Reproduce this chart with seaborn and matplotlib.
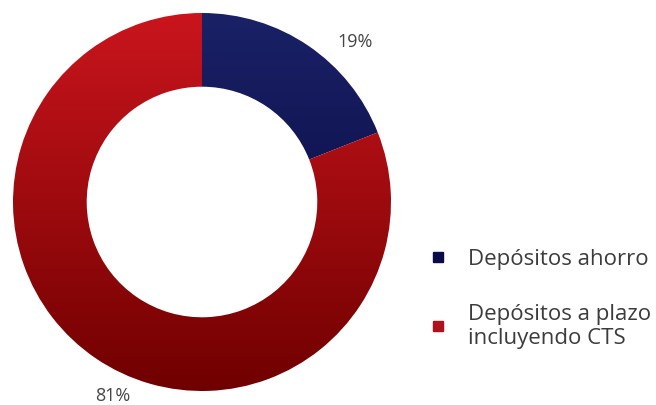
import numpy as np
import matplotlib
matplotlib.use("Agg")
import matplotlib.pyplot as plt
from matplotlib.colors import LinearSegmentedColormap
from matplotlib.lines import Line2D
import seaborn as sns

# Deposit composition (share of total, %)
categories = ["Depósitos ahorro", "Depósitos a plazo\nincluyendo CTS"]
shares = [19, 81]
value_labels = ["19%", "81%"]

# Gradient colours per slice (top -> bottom)
top_colors = ["#1a2166", "#ca151d"]
bottom_colors = ["#04043a", "#700000"]
legend_colors = ["#0b0b4a", "#b0101a"]

sns.set_theme(style="white")
plt.rcParams["font.family"] = ["Open Sans", "DejaVu Sans"]

W, H = 656, 405
cx, cy, R = 202, 202, 189  # pixel centre and outer radius
fig = plt.figure(figsize=(W / 100, H / 100), dpi=100)
ax = fig.add_axes([0, 0, 1, 1])

wedges, _ = ax.pie(shares, startangle=90, counterclock=False, radius=1.0,
                   wedgeprops=dict(width=0.39, facecolor="none", edgecolor="none"))

grad = np.linspace(0, 1, 256).reshape(-1, 1)
for w, c0, c1 in zip(wedges, top_colors, bottom_colors):
    cmap = LinearSegmentedColormap.from_list("g", [c0, c1])
    im = ax.imshow(grad, cmap=cmap, extent=(-1, 1, -1, 1), origin="upper",
                   aspect="auto", zorder=1, interpolation="bicubic")
    im.set_clip_path(w)

ax.set_xlim(-cx / R, (W - cx) / R)
ax.set_ylim(-(H - cy) / R, cy / R)
ax.set_aspect("equal")
ax.axis("off")

label_pos = [(0.812, 0.849), (-0.474, -1.029)]
for (x, y), t in zip(label_pos, value_labels):
    ax.text(x, y, t, ha="center", va="center", fontsize=13, color="#454545")

handles = [Line2D([], [], marker="s", linestyle="none", markersize=6.5,
                  markerfacecolor=c, markeredgecolor=c) for c in legend_colors]
fig.legend(handles, categories, loc="upper left", bbox_to_anchor=(0.6203, 0.434),
           frameon=False, fontsize=16, labelcolor="#3c3c3c", handletextpad=0.85,
           labelspacing=1.5, handlelength=1.0)

fig.savefig("out.png", dpi=100)
